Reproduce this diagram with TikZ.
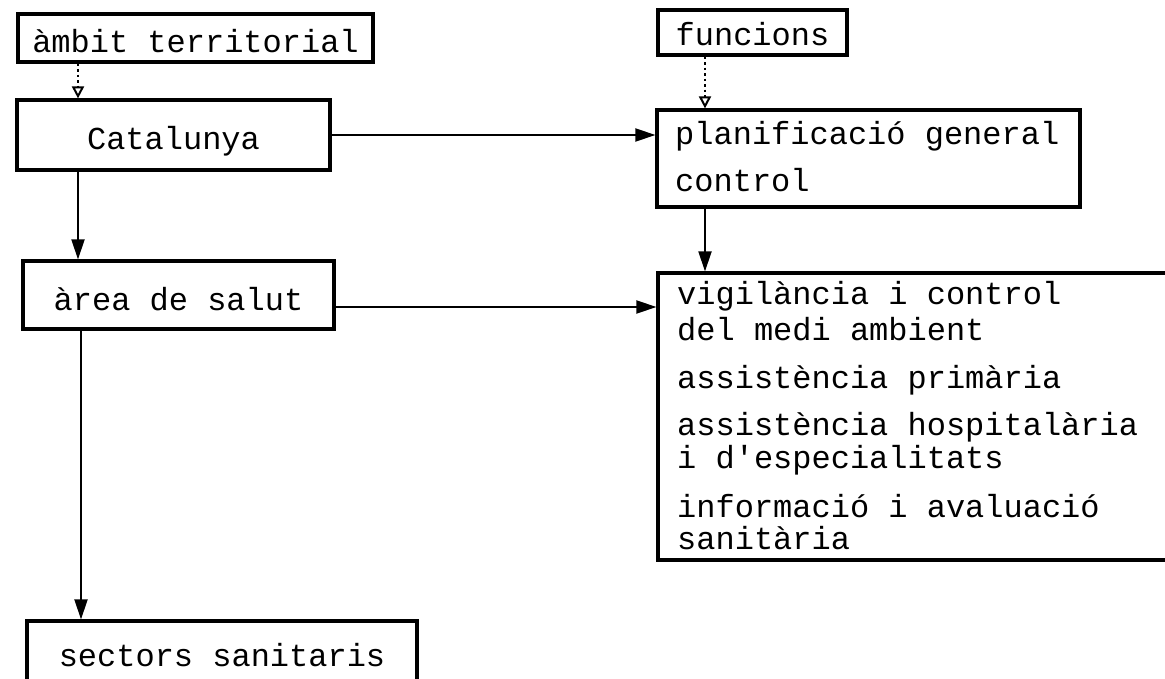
\documentclass[tikz,border=0pt]{standalone}
\usepackage{fontspec}
\newfontfamily\mono{Liberation Mono}
\usetikzlibrary{arrows.meta}
\begin{document}
\begin{tikzpicture}[x=1pt,y=-1pt,
  box/.style={draw, line width=3.2pt, inner sep=0pt, text depth=8pt, font=\fontsize{32}{34}\selectfont\mono},
  txt/.style={inner sep=0pt, anchor=base west, font=\fontsize{32}{34}\selectfont\mono},
  solidarr/.style={line width=2pt, -{Triangle[length=20pt,width=13pt]}},
  dotarr/.style={line width=2.2pt, dash pattern=on 2.5pt off 3pt, -{Triangle[open,length=12pt,width=12pt,line width=2pt]}}
]
\useasboundingbox (0,0) rectangle (1165,679);
\clip (0,0) rectangle (1165,679);
\fill[white] (0,0) rectangle (1165,679);

% boxes
\node[box, minimum width=355pt, minimum height=48pt, text height=38pt] (ambit) at (195.5,38) {àmbit territorial};
\node[box, minimum width=313pt, minimum height=70pt, text height=38pt] (cat) at (173.5,135) {Catalunya};
\node[box, minimum width=189pt, minimum height=45pt, text height=35pt] (func) at (752.5,32.5) {funcions};
\node[box, minimum width=311pt, minimum height=68pt, text height=38pt] (area) at (178.5,295) {àrea de salut};
\node[box, minimum width=390pt, minimum height=79pt, text height=19pt] (sect) at (222,660.5) {sectors sanitaris};
\node[box, minimum width=423pt, minimum height=97pt] (plan) at (868.5,158.5) {};
\node[box, minimum width=540pt, minimum height=287pt] (big) at (928,416.5) {};

% texts inside multi-line boxes
\node[txt] (p1) at (675,145) {planificació general};
\node[txt] (p2) at (675,192) {control};
\node[txt] (b1) at (677,305) {vigilància i control};
\node[txt] (b2) at (677,340) {del medi ambient};
\node[txt] (b3) at (677,388) {assistència primària};
\node[txt] (b4) at (677,435) {assistència hospitalària};
\node[txt] (b5) at (677,468) {i d'especialitats};
\node[txt] (b6) at (677,517) {informació i avaluació};
\node[txt] (b7) at (677,549) {sanitària};

% connector positions
\coordinate (xa) at (78,0);
\coordinate (xs) at (81,0);
\coordinate (xf) at (705,0);
\coordinate (ya) at (0,307);

\draw[dotarr] (ambit.south -| xa) -- (cat.north -| xa);
\draw[dotarr] (func.south -| xf) -- (plan.north -| xf);
\draw[solidarr] (cat.east) -- (cat.east -| plan.west);
\draw[solidarr] (cat.south -| xa) -- (area.north -| xa);
\draw[solidarr] (plan.south -| xf) -- (big.north -| xf);
\draw[solidarr] (area.east |- ya) -- (big.west |- ya);
\draw[solidarr] (area.south -| xs) -- (sect.north -| xs);
\end{tikzpicture}
\end{document}
